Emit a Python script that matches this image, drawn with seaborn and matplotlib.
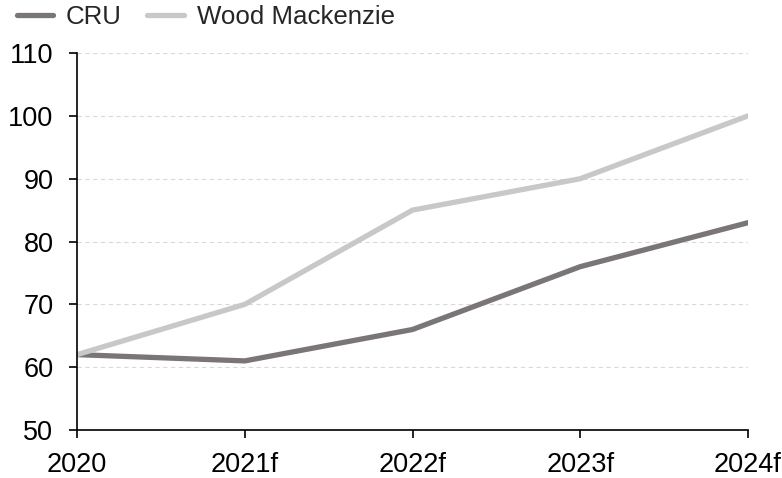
"""Price forecast comparison: CRU vs Wood Mackenzie."""

import matplotlib

matplotlib.use("Agg")
import matplotlib.pyplot as plt
import pandas as pd
import seaborn as sns

YEARS = ["2020", "2021f", "2022f", "2023f", "2024f"]
CRU = [62, 61, 66, 76, 83]
WOOD_MACKENZIE = [62, 70, 85, 90, 100]

COLORS = {"CRU": "#7a7576", "Wood Mackenzie": "#c8c8c8"}


def main() -> None:
    sns.set_theme(style="white")
    plt.rcParams["font.family"] = ["Liberation Sans", "DejaVu Sans"]

    df = pd.DataFrame({"year": YEARS, "CRU": CRU, "Wood Mackenzie": WOOD_MACKENZIE})
    long = df.melt(id_vars="year", var_name="source", value_name="value")
    long["x"] = long["year"].map({y: i for i, y in enumerate(YEARS)})

    fig = plt.figure(figsize=(7.82, 4.78), dpi=100)
    ax = fig.add_axes([0.0985, 0.1004, 0.858, 0.7886])

    sns.lineplot(
        data=long,
        x="x",
        y="value",
        hue="source",
        hue_order=["CRU", "Wood Mackenzie"],
        palette=COLORS,
        linewidth=3.8,
        ax=ax,
        legend=True,
    )

    ax.set_xlim(0, len(YEARS) - 1)
    ax.set_ylim(50, 110)
    ax.set_xticks(range(len(YEARS)))
    ax.set_xticklabels(YEARS)
    ax.set_yticks(range(50, 111, 10))
    ax.set_xlabel("")
    ax.set_ylabel("")

    ax.yaxis.grid(True, color="#d9d9d9", linestyle=(0, (4, 3)), linewidth=0.8)
    ax.xaxis.grid(False)
    for side in ["top", "right"]:
        ax.spines[side].set_visible(False)
    for side in ["left", "bottom"]:
        ax.spines[side].set_color("black")
        ax.spines[side].set_linewidth(1.2)

    ax.tick_params(axis="both", which="major", direction="out", length=6, width=1.2,
                   color="black", labelsize=19.5, labelcolor="black",
                   bottom=True, left=True)
    ax.tick_params(axis="x", pad=10)
    ax.tick_params(axis="y", pad=11)

    handles, labels = ax.get_legend_handles_labels()
    ax.legend(
        handles,
        labels,
        loc="center left",
        bbox_to_anchor=(-0.09, 1.096),
        ncol=2,
        frameon=False,
        fontsize=18.6,
        handlelength=1.4,
        handletextpad=0.5,
        columnspacing=1.0,
        borderaxespad=0,
        borderpad=0,
    )

    fig.savefig("out.png", dpi=100)
    plt.close(fig)


if __name__ == "__main__":
    main()
